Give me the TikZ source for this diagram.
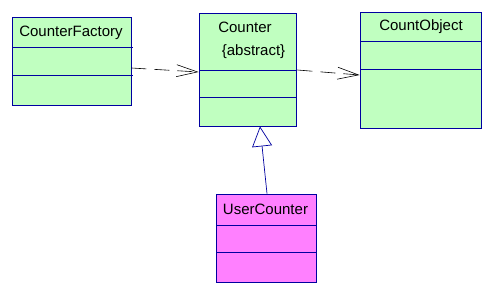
\documentclass[tikz,border=0pt]{standalone}
\usepackage{fontspec}
\setmainfont{Liberation Sans}
\usetikzlibrary{arrows.meta,calc}
\definecolor{umlgreen}{RGB}{192,255,192}
\definecolor{umlpink}{RGB}{255,128,255}
\definecolor{umlblue}{RGB}{0,0,160}
\tikzset{
  classbox/.style={draw=umlblue, line width=0.9pt, inner sep=0pt, minimum width=#1},
  greenbox/.style={classbox=#1, fill=umlgreen},
  pinkbox/.style={classbox=#1, fill=umlpink},
  divider/.style={draw=umlblue, line width=0.9pt},
  lbl/.style={anchor=base, inner sep=0pt, font=\fontsize{15}{17}\selectfont},
  dep/.style={draw=black, line width=0.6pt, dash pattern=on 15pt off 8pt, -{Straight Barb[length=21pt,width=12pt,line width=0.6pt]}},
  gen/.style={draw=umlblue, line width=0.7pt, -{Triangle[open,length=20pt,width=20pt,line width=0.7pt,fill=white]}}
}
\begin{document}
\begin{tikzpicture}[x=1pt,y=-1pt]
\useasboundingbox (0,0) rectangle (499,292);
\fill[white] (0,0) rectangle (499,292);
% CounterFactory
\node[greenbox=119pt, minimum height=88pt] (cf) at (71.5,61) {};
\draw[divider] (12,47) -- (133,47);
\draw[divider] (12,75) -- (133,75);
\node[lbl] (cft) at (71,36) {CounterFactory};
% Counter
\node[greenbox=97pt, minimum height=113pt] (co) at (247.5,69.5) {};
\draw[divider] (199,70) -- (297,70);
\draw[divider] (199,97) -- (297,97);
\node[lbl] (cot) at (245,32) {Counter};
\node[lbl] (coa) at (253.5,55) {\{abstract\}};
% CountObject
\node[greenbox=121pt, minimum height=116pt] (ob) at (420.5,70) {};
\draw[divider] (360,41) -- (482,41);
\draw[divider] (360,69) -- (482,69);
\node[lbl] (obt) at (421,30) {CountObject};
% UserCounter
\node[pinkbox=100pt, minimum height=88pt] (uc) at (266,238) {};
\draw[divider] (216,225) -- (317,225);
\draw[divider] (216,252) -- (317,252);
\node[lbl] (uct) at (265.5,214) {UserCounter};
% connectors
\draw[dep] ([yshift=-7pt]cf.east) -- ([yshift=-2.5pt]co.west);
\draw[dep] ([yshift=-0.5pt,xshift=1pt]co.east) -- ([yshift=-5pt]ob.west);
\draw[gen] ([xshift=1pt]uc.north) -- ([xshift=12.5pt]co.south);
\end{tikzpicture}
\end{document}
